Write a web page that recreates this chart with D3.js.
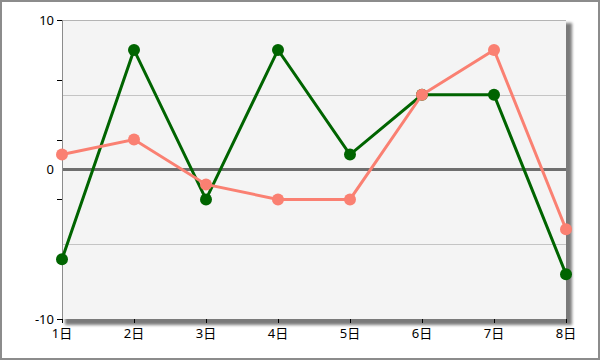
<!DOCTYPE html>
<html><head><meta charset="utf-8">
<script src="https://cdn.jsdelivr.net/npm/d3@7"></script>
<style>body{margin:0;background:#fff}svg{display:block}text{font-family:"Noto Sans","Noto Sans CJK JP",sans-serif;font-size:13px;fill:#000}</style>
</head><body><svg id="c" width="600" height="360"></svg>
<script>
const categories = ["1日","2日","3日","4日","5日","6日","7日","8日"];
const greenValues = [-6, 8, -2, 8, 1, 5, 5, -7];
const salmonValues = [1, 2, -1, -2, -2, 5, 8, -4];
const yLabelTicks = [-10, 0, 10];
const yMinorTicks = [-10, -6, -2, 2, 6, 10];
const yGridLines = [-5, 5];

const svg = d3.select("#c");
const L = 62, R = 566, T = 20, B = 319;
const x = d3.scalePoint().domain(categories).range([L, R]);
const y = d3.scaleLinear().domain([-10, 10]).range([B, T]);

// outer frame
svg.append("rect").attr("x",1).attr("y",1).attr("width",598).attr("height",358)
  .attr("fill","#fff").attr("stroke","#8c8c8c").attr("stroke-width",2);

// shadow
const defs = svg.append("defs");
const f = defs.append("filter").attr("id","sh").attr("x","-10%").attr("y","-10%").attr("width","120%").attr("height","120%");
f.append("feGaussianBlur").attr("stdDeviation",1.6);
svg.append("rect").attr("x",L+3).attr("y",T+3).attr("width",R-L+3).attr("height",B-T+3)
  .attr("fill","#7a7a7a").attr("filter","url(#sh)");

// plot background
svg.append("rect").attr("x",L).attr("y",T).attr("width",R-L).attr("height",B-T).attr("fill","#f4f4f4");
svg.append("line").attr("x1",L).attr("x2",R).attr("y1",T+0.5).attr("y2",T+0.5).attr("stroke","#b4b4b4");

// grid
svg.selectAll(".grid").data(yGridLines).join("line")
  .attr("x1",L).attr("x2",R).attr("y1",d=>Math.round(y(d))+0.5).attr("y2",d=>Math.round(y(d))+0.5)
  .attr("stroke","#c4c4c4");
svg.append("line").attr("x1",L).attr("x2",R).attr("y1",y(0)).attr("y2",y(0))
  .attr("stroke","#6e6e6e").attr("stroke-width",3);

// y axis
svg.append("line").attr("x1",L+0.5).attr("x2",L+0.5).attr("y1",T).attr("y2",B+1).attr("stroke","#8c8c8c");
svg.selectAll(".ytk").data(yMinorTicks).join("line")
  .attr("x1",L-5).attr("x2",L).attr("y1",d=>Math.round(y(d))+0.5).attr("y2",d=>Math.round(y(d))+0.5)
  .attr("stroke","#000");
svg.selectAll(".ylab").data(yLabelTicks).join("text")
  .attr("x",L-8).attr("y",d=>y(d)).attr("dy","0.35em").attr("text-anchor","end").text(d=>d);

// x axis
svg.selectAll(".xtk").data(categories).join("line")
  .attr("x1",d=>Math.round(x(d))+0.5).attr("x2",d=>Math.round(x(d))+0.5).attr("y1",B).attr("y2",B+4)
  .attr("stroke","#000");
svg.selectAll(".xlab").data(categories).join("text")
  .attr("x",d=>x(d)).attr("y",B+19).attr("text-anchor","middle").text(d=>d);

function series(vals, color){
  const line = d3.line().x((d,i)=>x(categories[i])).y(d=>y(d));
  svg.append("path").datum(vals).attr("d",line).attr("fill","none").attr("stroke",color).attr("stroke-width",3);
  svg.append("g").selectAll("circle").data(vals).join("circle")
    .attr("cx",(d,i)=>x(categories[i])).attr("cy",d=>y(d)).attr("r",6).attr("fill",color);
}
series(greenValues, "#006400");
series(salmonValues, "#fa8072");
</script></body></html>
